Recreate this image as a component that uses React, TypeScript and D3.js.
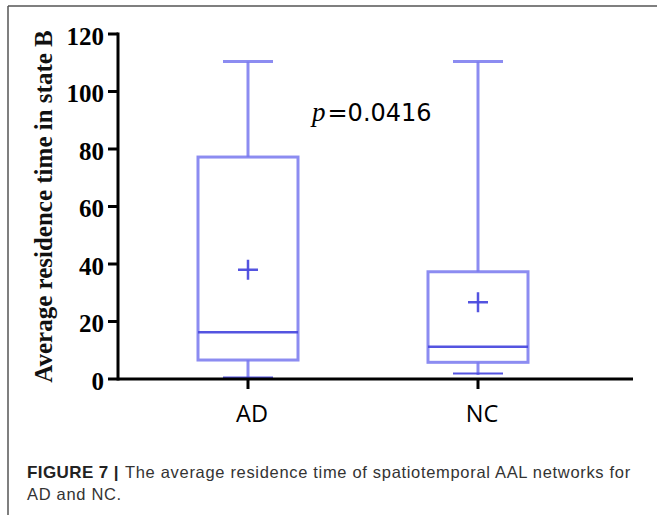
import * as d3 from 'd3';

const categories = ['AD', 'NC'];
const q1 = [6.6, 5.8];
const median = [16.3, 11.2];
const q3 = [77.2, 37.3];
const means = [38, 26.7];
const whiskerLow = [0, 1.4];
const whiskerHigh = [110.4, 110.4];
const yTicks = [0, 20, 40, 60, 80, 100, 120];

const W = 657;
const H = 515;
const boxColor = 'rgba(120,120,238,0.85)';
const darkBlue = 'rgba(75,75,222,0.95)';

export default function App() {
  const y = d3.scaleLinear().domain([0, 120]).range([379, 34]);
  const x = d3.scalePoint<string>().domain(categories).range([248, 478]);
  const boxW = 100;
  const capW = 50;
  const axisLeft = 118;
  const axisRight = 633;

  return (
    <svg width={W} height={H} style={{ position: 'absolute', left: 0, top: 0, background: '#fff' }}>
      {/* frame */}
      <line x1={8} y1={6} x2={W} y2={6} stroke="#555" strokeWidth={1.5} />
      <line x1={8} y1={6} x2={8} y2={H} stroke="#555" strokeWidth={1.5} />

      {/* boxes */}
      {categories.map((c, i) => {
        const cx = x(c)!;
        return (
          <g key={c} fill="none" strokeWidth={3}>
            <line x1={cx} x2={cx} y1={y(q3[i])} y2={y(whiskerHigh[i])} stroke={boxColor} />
            <line x1={cx - capW / 2} x2={cx + capW / 2} y1={y(whiskerHigh[i])} y2={y(whiskerHigh[i])} stroke={boxColor} />
            <line x1={cx} x2={cx} y1={y(q1[i])} y2={y(whiskerLow[i])} stroke={boxColor} />
            <line x1={cx - capW / 2} x2={cx + capW / 2} y1={y(whiskerLow[i]) - 1.5} y2={y(whiskerLow[i]) - 1.5} stroke={darkBlue} strokeWidth={2} />
            <rect x={cx - boxW / 2} y={y(q3[i])} width={boxW} height={y(q1[i]) - y(q3[i])} stroke={boxColor} />
            <line x1={cx - boxW / 2} x2={cx + boxW / 2} y1={y(median[i])} y2={y(median[i])} stroke={darkBlue} strokeWidth={2.5} />
            <line x1={cx - 10} x2={cx + 10} y1={y(means[i])} y2={y(means[i])} stroke={darkBlue} strokeWidth={2.5} />
            <line x1={cx} x2={cx} y1={y(means[i]) - 10} y2={y(means[i]) + 10} stroke={darkBlue} strokeWidth={2.5} />
          </g>
        );
      })}

      {/* y axis */}
      <line x1={axisLeft} x2={axisLeft} y1={y(120) - 1.5} y2={y(0) + 1.5} stroke="#000" strokeWidth={3} />
      {yTicks.map((t) => (
        <g key={t}>
          <line x1={axisLeft - 10} x2={axisLeft} y1={y(t)} y2={y(t)} stroke="#000" strokeWidth={3} />
          <text
            x={axisLeft - 14}
            y={y(t)}
            dy="0.42em"
            textAnchor="end"
            fontFamily="'Liberation Serif', 'Times New Roman', serif"
            fontWeight="bold"
            fontSize={25}
            fill="#000"
          >
            {t}
          </text>
        </g>
      ))}

      {/* x axis */}
      <line x1={axisLeft} x2={axisRight} y1={y(0)} y2={y(0)} stroke="#000" strokeWidth={3} />
      {categories.map((c) => (
        <g key={c}>
          <line x1={x(c)!} x2={x(c)!} y1={y(0)} y2={y(0) + 10} stroke="#000" strokeWidth={3} />
          <text
            x={x(c)!}
            dx={4}
            y={422}
            textAnchor="middle"
            fontFamily="'Open Sans', 'Noto Sans', sans-serif"
            fontSize={23.5}
            fill="#000"
          >
            {c}
          </text>
        </g>
      ))}

      {/* y label */}
      <text
        transform={`translate(52,${(30 + 383) / 2}) rotate(-90)`}
        textAnchor="middle"
        fontFamily="'Liberation Serif', 'Times New Roman', serif"
        fontWeight="bold"
        fontSize={25}
        fill="#111"
      >
        Average residence time in state B
      </text>

      {/* p value */}
      <text x={312} y={121} fill="#000">
        <tspan fontFamily="'Liberation Serif', serif" fontStyle="italic" fontSize={27}>p</tspan>
        <tspan dx={2} fontFamily="'DejaVu Sans', sans-serif" fontSize={24}>=0.0416</tspan>
      </text>

      {/* caption */}
      <text x={27} y={478} fontFamily="'Liberation Sans', Arial, sans-serif" fontSize={17} letterSpacing={0.4} fontWeight="bold" fill="#222">
        FIGURE 7 |
      </text>
      <text x={125} y={478} fontFamily="'Liberation Sans', Arial, sans-serif" fontSize={16.5} letterSpacing={0.68} fill="#333">
        The average residence time of spatiotemporal AAL networks for
      </text>
      <text x={27} y={500} fontFamily="'Liberation Sans', Arial, sans-serif" fontSize={16.5} letterSpacing={0.68} fill="#333">
        AD and NC.
      </text>
    </svg>
  );
}
